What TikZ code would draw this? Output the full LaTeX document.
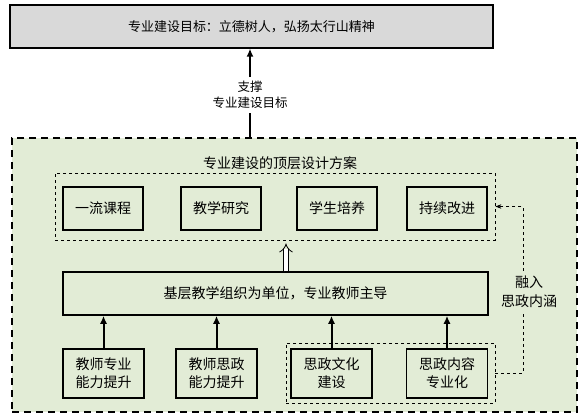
\documentclass[tikz,border=0pt]{standalone}
\usepackage{fontspec}
\setmainfont{Noto Sans CJK SC}
\definecolor{planGreen}{RGB}{226, 236, 214}
\definecolor{goalGray}{RGB}{217, 217, 217}
\usetikzlibrary{arrows.meta, positioning}

\begin{document}
\begin{tikzpicture}[x=1pt, y=-1pt, every node/.style={font=\fontsize{14}{18}\selectfont, inner sep=0pt},
    box/.style={draw, line width=1.5pt, align=center, minimum width=80pt},
    upArrow/.style={line width=2pt, -{Latex[length=8pt, width=7pt]}},
    fuseLine/.style={dashed, line width=0.8pt}]
        \useasboundingbox (0,0) rectangle (587,418);

        \node[draw, fill=planGreen, line width=1.6pt, dash pattern=on 7pt off 5pt, minimum width=565pt, minimum height=274pt] (outer) at (294.5,275) {};
        \node[draw, fill=goalGray, line width=1.2pt, minimum width=483pt, minimum height=43pt, font=\fontsize{13}{16}\selectfont] (goal) at (251.5,26.5) {专业建设目标：立德树人，弘扬太行山精神};

        \node[align=center, font=\fontsize{12.5}{16}\selectfont] (support) at (250,95) {支撑\\专业建设目标};
        \draw[line width=2pt] (outer.north -| support) -- ([yshift=-4pt]support.south);
        \draw[upArrow] ([yshift=4pt]support.north) -- (support.north |- goal.south);

        \node (plan) at (280,163) {专业建设的顶层设计方案};
        \node[draw, dashed, line width=0.8pt, minimum width=440pt, minimum height=67pt] (dtop) at (275,206.5) {};

        \node[box, minimum height=43pt] (course) at (103,208.5) {一流课程};
        \node[box, minimum height=43pt] (research) at (221,208.5) {教学研究};
        \node[box, minimum height=43pt] (train) at (337,208.5) {学生培养};
        \node[box, minimum height=43pt] (improve) at (447,208.5) {持续改进};

        \node[box, minimum width=425pt, minimum height=43pt] (base) at (275.5,293.5) {基层教学组织为单位，专业教师主导};
        \draw[double, double distance=4pt, line width=0.8pt, -{Implies[length=8pt, width=14pt]}, shorten >=3pt] ([xshift=10.5pt]base.north) -- ([xshift=11pt]dtop.south);

        \node[draw, dashed, line width=0.8pt, minimum width=209pt, minimum height=60pt] (dbot) at (390.5,373) {};
        \node[box, minimum width=81pt, minimum height=49pt] (skill) at (103.5,373.5) {教师专业\\能力提升};
        \node[box, minimum width=81pt, minimum height=49pt] (ideo) at (216.5,373.5) {教师思政\\能力提升};
        \node[box, minimum width=81pt, minimum height=49pt] (culture) at (331.5,373.5) {思政文化\\建设};
        \node[box, minimum width=81pt, minimum height=49pt] (content) at (447,373.5) {思政内容\\专业化};

        \draw[upArrow] (skill) -- (skill |- base.south);
        \draw[upArrow] (ideo) -- (ideo |- base.south);
        \draw[upArrow] (culture) -- (culture |- base.south);
        \draw[upArrow] (content) -- (content |- base.south);

        \node[align=center, font=\fontsize{14}{19}\selectfont] (fuse) at (529,292) {融入\\思政内涵};
        \draw[fuseLine] (dbot.east) -| ([xshift=-6pt, yshift=-5pt]fuse.south);
        \draw[fuseLine, -{Stealth[length=6pt]}] ([xshift=-6pt, yshift=5pt]fuse.north) |- (dtop.east);
\end{tikzpicture}
\end{document}
